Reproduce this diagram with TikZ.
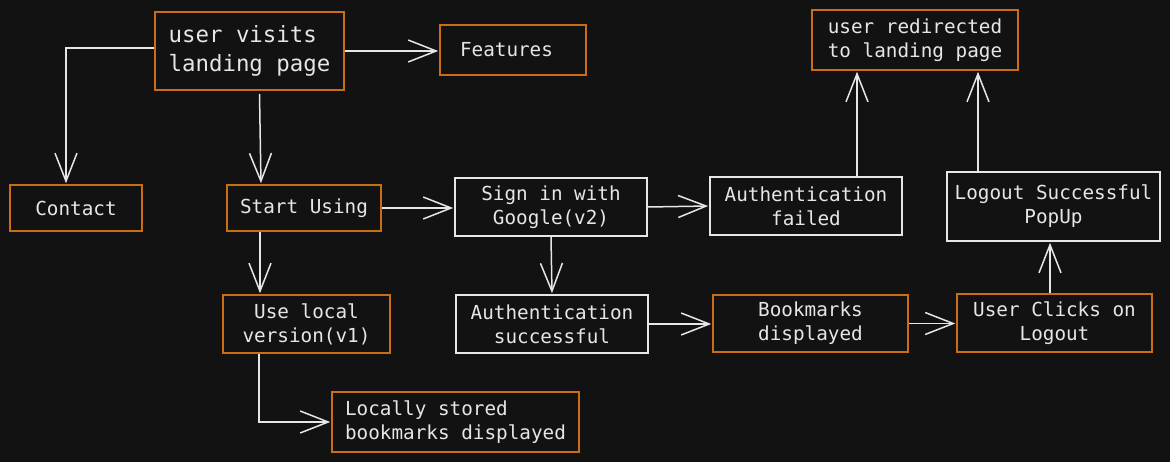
\documentclass[tikz,border=0pt]{standalone}
\usepackage{fontspec}
\setmonofont{DejaVu Sans Mono}
\usetikzlibrary{arrows.meta,calc}
\definecolor{bg}{HTML}{121212}
\definecolor{org}{HTML}{C96E14}
\definecolor{wln}{HTML}{E6E6E6}
\tikzset{
  base/.style={draw, line width=1.6pt, fill=bg, text=wln, inner sep=0pt, align=center,
    font=\ttfamily\fontsize{19.3}{24}\selectfont},
  obox/.style={base, draw=org},
  wbox/.style={base, draw=wln},
  conn/.style={draw=wln, line width=1.5pt, shorten >=1pt,
    -{Straight Barb[length=28pt,width=22pt,line width=1.5pt]}},
}
\begin{document}
\begin{tikzpicture}[x=1pt,y=-1pt]
\useasboundingbox (0,0) rectangle (1170,462);
\fill[bg] (0,0) rectangle (1170,462);
\node[obox, minimum width=189pt, minimum height=78pt, align=left,
  font=\ttfamily\fontsize{22.4}{28.5}\selectfont] (landing) at (249.5,51) {user visits\\landing page};
\node[obox, minimum width=146pt, minimum height=50pt] (features) at (513,50) {Features\hspace{13pt}};
\node[obox, minimum width=132pt, minimum height=46pt] (contact) at (76,208) {Contact};
\node[obox, minimum width=154pt, minimum height=46pt] (start) at (304,208) {Start Using};
\node[wbox, minimum width=192pt, minimum height=58pt] (signin) at (551,207) {Sign in with\\Google(v2)};
\node[wbox, minimum width=192pt, minimum height=58pt] (authfail) at (806,206) {Authentication\\failed};
\node[obox, minimum width=206pt, minimum height=60pt] (redirect) at (915,40) {user redirected\\to landing page};
\node[wbox, minimum width=213pt, minimum height=69pt] (logoutpop) at (1053.5,206.5) {Logout Successful\\PopUp};
\node[obox, minimum width=167pt, minimum height=58pt] (uselocal) at (306.5,324) {Use local\\version(v1)};
\node[wbox, minimum width=192pt, minimum height=58pt] (authsucc) at (552,324) {Authentication\\successful};
\node[obox, minimum width=195pt, minimum height=57pt] (bookmarks) at (810.5,323.5) {Bookmarks\\displayed};
\node[obox, minimum width=195pt, minimum height=58pt] (userclicks) at (1054.5,323) {User Clicks on\\Logout};
\node[obox, minimum width=247pt, minimum height=60pt, align=left] (locally) at (455.5,422) {Locally stored\\bookmarks displayed};

\draw[conn] ([yshift=3pt]landing.west) -| ([xshift=-10pt]contact.north);
\draw[conn] (landing.east) -- (landing.east -| features.west);
\draw[conn] ([xshift=10pt,yshift=-3pt]landing.south) -- ([xshift=-43pt]start.north);
\draw[conn] (start.east) -- (start.east -| signin.west);
\draw[conn] ([xshift=-44pt]start.south) -- ([xshift=-44pt]start.south |- uselocal.north);
\draw[conn] ([xshift=-47.5pt]uselocal.south) |- (locally.west);
\draw[conn] (signin.east) -- (authfail.west);
\draw[conn] (signin.south) -- (authsucc.north);
\draw[conn] ([xshift=51pt]authfail.north) -- ([xshift=51pt]authfail.north |- redirect.south);
\draw[conn] (authsucc.east) -- (authsucc.east -| bookmarks.west);
\draw[conn] (bookmarks.east) -- (bookmarks.east -| userclicks.west);
\draw[conn] ([xshift=-4.5pt]userclicks.north) -- ([xshift=-4.5pt]userclicks.north |- logoutpop.south);
\draw[conn] ([xshift=-75.5pt]logoutpop.north) -- ([xshift=-75.5pt]logoutpop.north |- redirect.south);
\end{tikzpicture}
\end{document}
